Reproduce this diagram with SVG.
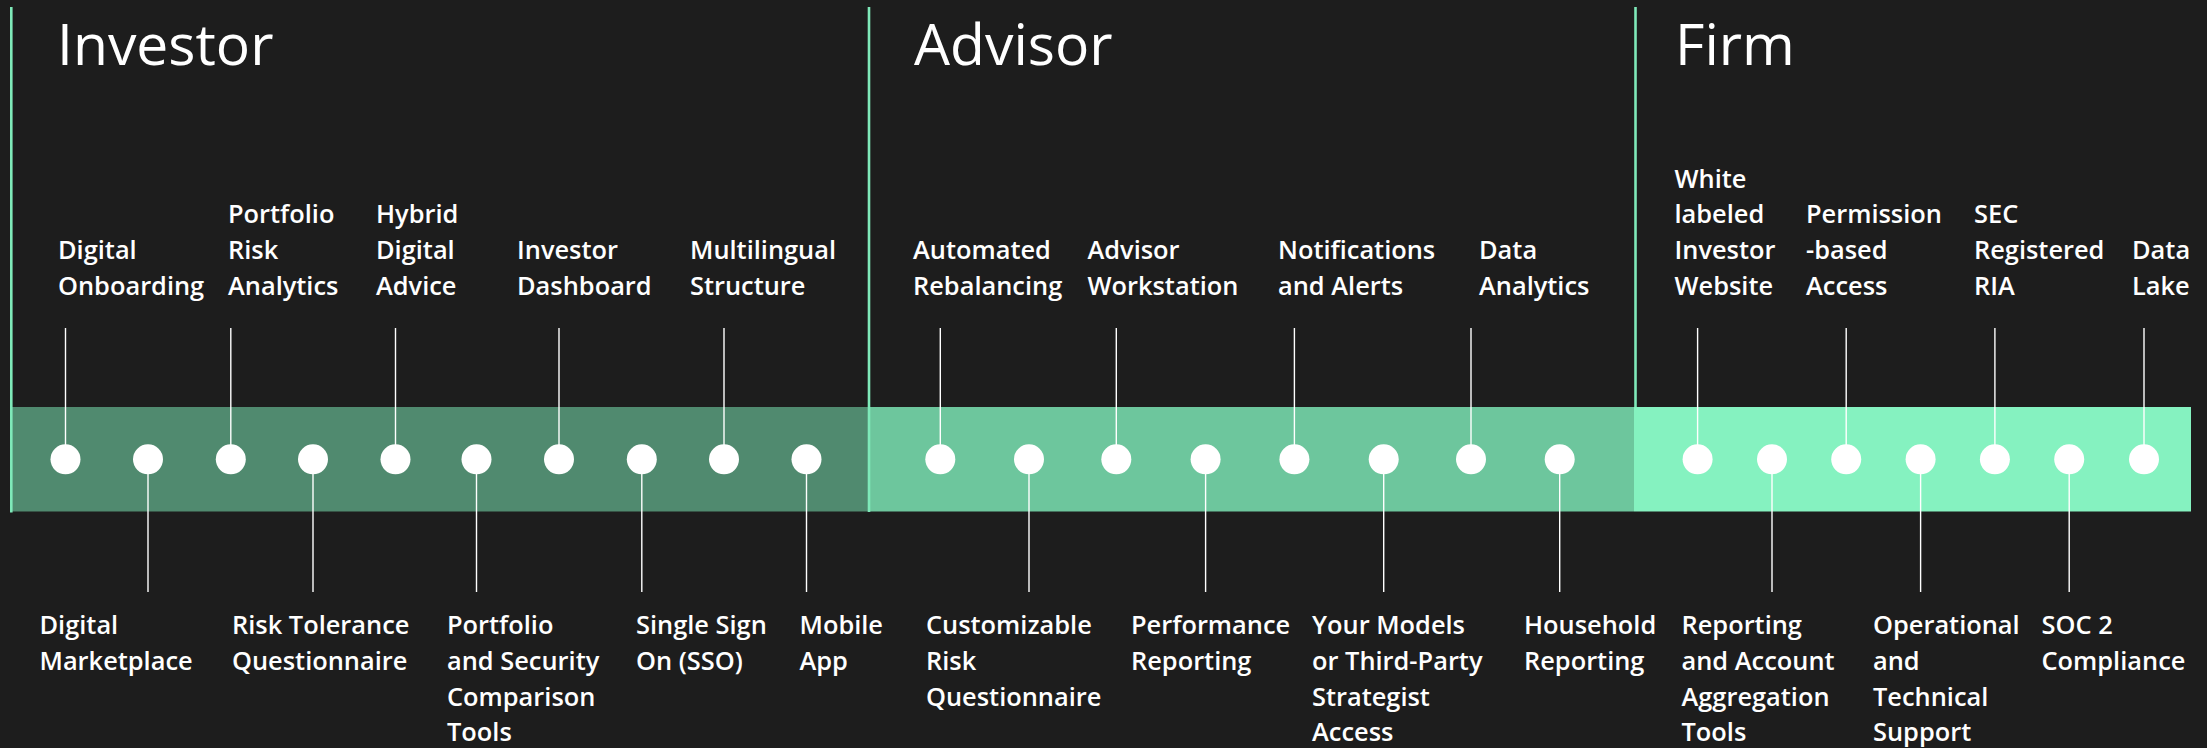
<svg xmlns="http://www.w3.org/2000/svg" width="2207" height="748" viewBox="0 0 2207 748">
<style>
.title{font-family:"Open Sans","Liberation Sans",sans-serif;font-size:57px;font-weight:500;fill:#ffffff}
.lbl{font-family:"Open Sans","Liberation Sans",sans-serif;font-size:25.4px;font-weight:600;fill:#ffffff}
.stem{stroke:#ffffff;stroke-width:1.4}
.sep{stroke:#7fe9b9;stroke-width:2.6}
.dot{fill:#ffffff}
</style>
<rect width="2207" height="748" fill="#1d1d1d"/>
<g id="bars">
<rect x="12" y="407" width="857" height="104.5" fill="#508a6f"/>
<rect x="869" y="407" width="765" height="104.5" fill="#6dc69d"/>
<rect x="1634" y="407" width="557" height="104.5" fill="#85f2c0"/>
</g>
<g id="separators">
<line class="sep" x1="11.3" y1="7" x2="11.3" y2="512.5"/>
<line class="sep" x1="869" y1="7" x2="869" y2="512"/>
<line class="sep" x1="1635.5" y1="7" x2="1635.5" y2="407"/>
</g>
<g id="titles">
<text class="title" x="57" y="65">Investor</text>
<text class="title" x="914" y="65">Advisor</text>
<text class="title" x="1675" y="65">Firm</text>
</g>
<g id="connectors">
<line class="stem" x1="65.5" y1="328" x2="65.5" y2="459"/>
<line class="stem" x1="230.8" y1="328" x2="230.8" y2="459"/>
<line class="stem" x1="395.5" y1="328" x2="395.5" y2="459"/>
<line class="stem" x1="559" y1="328" x2="559" y2="459"/>
<line class="stem" x1="724" y1="328" x2="724" y2="459"/>
<line class="stem" x1="148" y1="459" x2="148" y2="592"/>
<line class="stem" x1="313" y1="459" x2="313" y2="592"/>
<line class="stem" x1="476.5" y1="459" x2="476.5" y2="592"/>
<line class="stem" x1="641.8" y1="459" x2="641.8" y2="592"/>
<line class="stem" x1="806.5" y1="459" x2="806.5" y2="592"/>
<line class="stem" x1="940.3" y1="328" x2="940.3" y2="459"/>
<line class="stem" x1="1116.3" y1="328" x2="1116.3" y2="459"/>
<line class="stem" x1="1294.4" y1="328" x2="1294.4" y2="459"/>
<line class="stem" x1="1471" y1="328" x2="1471" y2="459"/>
<line class="stem" x1="1029" y1="459" x2="1029" y2="592"/>
<line class="stem" x1="1205.6" y1="459" x2="1205.6" y2="592"/>
<line class="stem" x1="1383.7" y1="459" x2="1383.7" y2="592"/>
<line class="stem" x1="1559.7" y1="459" x2="1559.7" y2="592"/>
<line class="stem" x1="1697.6" y1="328" x2="1697.6" y2="459"/>
<line class="stem" x1="1846.2" y1="328" x2="1846.2" y2="459"/>
<line class="stem" x1="1994.9" y1="328" x2="1994.9" y2="459"/>
<line class="stem" x1="2144" y1="328" x2="2144" y2="459"/>
<line class="stem" x1="1772" y1="459" x2="1772" y2="592"/>
<line class="stem" x1="1920.6" y1="459" x2="1920.6" y2="592"/>
<line class="stem" x1="2069.2" y1="459" x2="2069.2" y2="592"/>
</g>
<g id="n-digital-onboarding"><circle class="dot" cx="65.5" cy="459.3" r="15"/><text class="lbl" x="58" y="259"><tspan x="58">Digital</tspan><tspan x="58" y="295">Onboarding</tspan></text></g>
<g id="n-digital-marketplace"><circle class="dot" cx="148" cy="459.3" r="15"/><text class="lbl" x="39.5" y="634"><tspan x="39.5">Digital</tspan><tspan x="39.5" y="670">Marketplace</tspan></text></g>
<g id="n-portfolio-risk"><circle class="dot" cx="230.8" cy="459.3" r="15"/><text class="lbl" x="228" y="223"><tspan x="228">Portfolio</tspan><tspan x="228" y="259">Risk</tspan><tspan x="228" y="295">Analytics</tspan></text></g>
<g id="n-risk-tolerance"><circle class="dot" cx="313" cy="459.3" r="15"/><text class="lbl" x="232" y="634"><tspan x="232">Risk Tolerance</tspan><tspan x="232" y="670">Questionnaire</tspan></text></g>
<g id="n-hybrid"><circle class="dot" cx="395.5" cy="459.3" r="15"/><text class="lbl" x="376" y="223"><tspan x="376">Hybrid</tspan><tspan x="376" y="259">Digital</tspan><tspan x="376" y="295">Advice</tspan></text></g>
<g id="n-portfolio-security"><circle class="dot" cx="476.5" cy="459.3" r="15"/><text class="lbl" x="447" y="634"><tspan x="447">Portfolio</tspan><tspan x="447" y="670">and Security</tspan><tspan x="447" y="706">Comparison</tspan><tspan x="447" y="741">Tools</tspan></text></g>
<g id="n-investor-dashboard"><circle class="dot" cx="559" cy="459.3" r="15"/><text class="lbl" x="517" y="259"><tspan x="517">Investor</tspan><tspan x="517" y="295">Dashboard</tspan></text></g>
<g id="n-sso"><circle class="dot" cx="641.8" cy="459.3" r="15"/><text class="lbl" x="636" y="634"><tspan x="636">Single Sign</tspan><tspan x="636" y="670">On (SSO)</tspan></text></g>
<g id="n-multilingual"><circle class="dot" cx="724" cy="459.3" r="15"/><text class="lbl" x="690" y="259"><tspan x="690">Multilingual</tspan><tspan x="690" y="295">Structure</tspan></text></g>
<g id="n-mobile"><circle class="dot" cx="806.5" cy="459.3" r="15"/><text class="lbl" x="799.5" y="634"><tspan x="799.5">Mobile</tspan><tspan x="799.5" y="670">App</tspan></text></g>
<g id="n-automated"><circle class="dot" cx="940.3" cy="459.3" r="15"/><text class="lbl" x="913" y="259"><tspan x="913">Automated</tspan><tspan x="913" y="295">Rebalancing</tspan></text></g>
<g id="n-customizable"><circle class="dot" cx="1029" cy="459.3" r="15"/><text class="lbl" x="926" y="634"><tspan x="926">Customizable</tspan><tspan x="926" y="670">Risk</tspan><tspan x="926" y="706">Questionnaire</tspan></text></g>
<g id="n-workstation"><circle class="dot" cx="1116.3" cy="459.3" r="15"/><text class="lbl" x="1087.5" y="259"><tspan x="1087.5">Advisor</tspan><tspan x="1087.5" y="295">Workstation</tspan></text></g>
<g id="n-performance"><circle class="dot" cx="1205.6" cy="459.3" r="15"/><text class="lbl" x="1131" y="634"><tspan x="1131">Performance</tspan><tspan x="1131" y="670">Reporting</tspan></text></g>
<g id="n-notifications"><circle class="dot" cx="1294.4" cy="459.3" r="15"/><text class="lbl" x="1278" y="259"><tspan x="1278">Notifications</tspan><tspan x="1278" y="295">and Alerts</tspan></text></g>
<g id="n-your-models"><circle class="dot" cx="1383.7" cy="459.3" r="15"/><text class="lbl" x="1312" y="634"><tspan x="1312">Your Models</tspan><tspan x="1312" y="670">or Third-Party</tspan><tspan x="1312" y="706">Strategist</tspan><tspan x="1312" y="741">Access</tspan></text></g>
<g id="n-data-analytics"><circle class="dot" cx="1471" cy="459.3" r="15"/><text class="lbl" x="1479" y="259"><tspan x="1479">Data</tspan><tspan x="1479" y="295">Analytics</tspan></text></g>
<g id="n-household"><circle class="dot" cx="1559.7" cy="459.3" r="15"/><text class="lbl" x="1524" y="634"><tspan x="1524">Household</tspan><tspan x="1524" y="670">Reporting</tspan></text></g>
<g id="n-white-labeled"><circle class="dot" cx="1697.6" cy="459.3" r="15"/><text class="lbl" x="1674.5" y="188"><tspan x="1674.5">White</tspan><tspan x="1674.5" y="223">labeled</tspan><tspan x="1674.5" y="259">Investor</tspan><tspan x="1674.5" y="295">Website</tspan></text></g>
<g id="n-reporting-aggregation"><circle class="dot" cx="1772" cy="459.3" r="15"/><text class="lbl" x="1681.5" y="634"><tspan x="1681.5">Reporting</tspan><tspan x="1681.5" y="670">and Account</tspan><tspan x="1681.5" y="706">Aggregation</tspan><tspan x="1681.5" y="741">Tools</tspan></text></g>
<g id="n-permission"><circle class="dot" cx="1846.2" cy="459.3" r="15"/><text class="lbl" x="1806" y="223"><tspan x="1806">Permission</tspan><tspan x="1806" y="259">-based</tspan><tspan x="1806" y="295">Access</tspan></text></g>
<g id="n-operational"><circle class="dot" cx="1920.6" cy="459.3" r="15"/><text class="lbl" x="1873" y="634"><tspan x="1873">Operational</tspan><tspan x="1873" y="670">and</tspan><tspan x="1873" y="706">Technical</tspan><tspan x="1873" y="741">Support</tspan></text></g>
<g id="n-sec"><circle class="dot" cx="1994.9" cy="459.3" r="15"/><text class="lbl" x="1974" y="223"><tspan x="1974">SEC</tspan><tspan x="1974" y="259">Registered</tspan><tspan x="1974" y="295">RIA</tspan></text></g>
<g id="n-soc2"><circle class="dot" cx="2069.2" cy="459.3" r="15"/><text class="lbl" x="2041.5" y="634"><tspan x="2041.5">SOC 2</tspan><tspan x="2041.5" y="670">Compliance</tspan></text></g>
<g id="n-data-lake"><circle class="dot" cx="2144" cy="459.3" r="15"/><text class="lbl" x="2132" y="259"><tspan x="2132">Data</tspan><tspan x="2132" y="295">Lake</tspan></text></g>
</svg>
